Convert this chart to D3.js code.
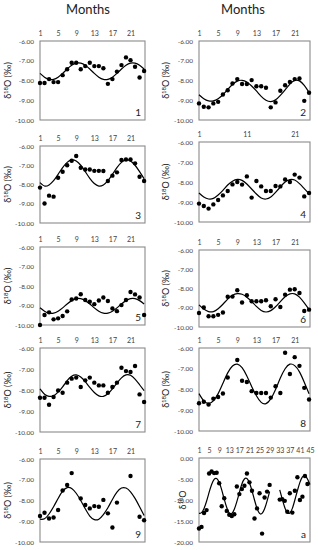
<!DOCTYPE html>
<html>
<head>
<meta charset="utf-8">
<script src="https://cdn.jsdelivr.net/npm/d3@7"></script>
<style>
  body { margin: 0; background: #fff; }
  text { font-family: Lato, "Open Sans", sans-serif; }
</style>
</head>
<body>
<svg id="chart" width="318" height="550"></svg>
<script>
// months on the x axis
var months = d3.range(1, 25),
    monthsLong = d3.range(1, 46);

// tick labels
var ticksBy4 = [1, 5, 9, 13, 17, 21],
    ticksBy10 = [1, 11, 21],
    ticksLong = [1, 5, 9, 13, 17, 21, 25, 29, 33, 37, 41, 45],
    isoTicks = [-6, -7, -8, -9, -10],
    isoTicksWide = [0, -5, -10, -15, -20];

// measured values (dots) and fitted curve, one pair per site
var obs1 = [-8.13,-8.13,-7.93,-8.08,-8.08,-7.73,-7.43,-7.10,-7.10,-7.43,-7.27,-7.10,-7.27,-7.27,-7.38,-8.17,-7.93,-7.55,-7.22,-6.83,-6.97,-7.30,-7.85,-7.52];
var fit1 = [-7.64,-7.83,-7.94,-7.94,-7.83,-7.64,-7.42,-7.23,-7.12,-7.12,-7.23,-7.42,-7.64,-7.83,-7.94,-7.94,-7.83,-7.64,-7.42,-7.23,-7.12,-7.12,-7.23,-7.42];

var obs2 = [-9.16,-9.33,-9.36,-9.16,-9.08,-8.71,-8.49,-8.15,-7.93,-8.18,-8.18,-7.98,-8.29,-8.29,-8.37,-9.36,-9.11,-8.52,-8.24,-8.07,-7.93,-7.90,-9.03,-8.62];
var fit2 = [-8.72,-8.92,-9.03,-9.03,-8.92,-8.72,-8.45,-8.20,-8.03,-7.99,-8.08,-8.28,-8.53,-8.80,-9.00,-9.07,-8.98,-8.75,-8.47,-8.18,-8.00,-8.02,-8.25,-8.60];

var obs3 = [-8.16,-8.99,-8.58,-8.63,-7.65,-7.34,-7.00,-6.77,-6.52,-7.13,-7.22,-7.22,-7.29,-7.29,-7.30,-7.82,-7.54,-7.37,-6.73,-6.70,-6.70,-6.90,-7.60,-7.82];
var fit3 = [-7.90,-8.08,-8.02,-7.80,-7.47,-7.12,-6.85,-6.72,-6.78,-7.00,-7.33,-7.68,-7.95,-8.08,-8.02,-7.80,-7.47,-7.12,-6.85,-6.72,-6.78,-7.00,-7.33,-7.70];

var obs4 = [-9.08,-9.20,-9.33,-9.12,-8.90,-8.67,-8.45,-8.12,-8.00,-8.13,-7.72,-8.78,-7.95,-8.22,-8.45,-8.45,-8.20,-8.22,-7.87,-8.00,-7.63,-7.78,-8.72,-8.55];
var fit4 = [-8.55,-8.75,-8.85,-8.82,-8.65,-8.42,-8.15,-7.96,-7.87,-7.92,-8.10,-8.35,-8.60,-8.80,-8.85,-8.75,-8.52,-8.25,-8.00,-7.88,-7.90,-8.08,-8.33,-8.58];

var obs5 = [-10.00,-9.49,-9.35,-9.71,-9.66,-9.54,-9.30,-8.69,-8.64,-8.42,-8.72,-8.81,-8.93,-8.74,-8.59,-8.77,-9.15,-9.29,-8.98,-8.72,-8.31,-8.43,-8.59,-9.49];
var fit5 = [-9.12,-9.29,-9.39,-9.39,-9.29,-9.12,-8.92,-8.75,-8.65,-8.65,-8.75,-8.92,-9.12,-9.29,-9.39,-9.39,-9.29,-9.12,-8.92,-8.75,-8.65,-8.65,-8.75,-8.92];

var obs6 = [-9.27,-8.99,-9.44,-9.44,-9.37,-9.25,-8.43,-8.42,-8.09,-8.73,-8.35,-8.66,-8.66,-8.66,-8.61,-8.92,-8.56,-8.96,-8.32,-8.06,-8.04,-8.23,-9.17,-9.10];
var fit6 = [-8.85,-9.07,-9.20,-9.20,-9.05,-8.82,-8.55,-8.35,-8.27,-8.30,-8.45,-8.68,-8.93,-9.14,-9.22,-9.15,-8.95,-8.68,-8.43,-8.28,-8.28,-8.45,-8.75,-9.08];

var obs7 = [-8.37,-8.37,-8.70,-8.33,-8.02,-8.13,-7.65,-7.46,-7.41,-7.86,-7.54,-7.41,-7.65,-7.78,-7.78,-8.13,-7.86,-7.65,-6.94,-7.10,-7.14,-6.86,-8.21,-8.57];
var fit7 = [-7.95,-8.20,-8.30,-8.27,-8.10,-7.85,-7.55,-7.34,-7.28,-7.38,-7.60,-7.88,-8.12,-8.28,-8.30,-8.18,-7.95,-7.67,-7.42,-7.28,-7.30,-7.48,-7.75,-8.03];

var obs8 = [-8.66,-8.59,-8.72,-8.44,-8.36,-8.19,-7.42,null,-6.58,-7.58,-7.64,-8.08,-8.17,-8.17,-8.17,-8.39,-7.84,-8.17,-6.23,-7.25,-6.44,-6.86,-7.92,-8.48];
var fit8 = [-8.20,-8.55,-8.68,-8.55,-8.20,-7.70,-7.20,-6.87,-6.78,-6.95,-7.35,-7.85,-8.30,-8.62,-8.68,-8.45,-8.00,-7.45,-7.00,-6.78,-6.85,-7.15,-7.65,-8.20];

var obs9 = [-8.75,-8.59,-8.87,-8.82,-8.46,-7.52,-7.25,-6.68,null,-7.90,-8.22,-8.38,-8.27,-8.30,-7.97,-8.62,-9.30,-8.10,null,null,-6.82,null,-8.78,-8.95];
var fit9 = [-8.90,-8.88,-8.65,-8.30,-7.90,-7.55,-7.38,-7.42,-7.65,-8.00,-8.40,-8.75,-8.92,-8.90,-8.68,-8.35,-7.95,-7.60,-7.40,-7.40,-7.58,-7.90,-8.30,-8.72];

var obsA = [-16.8,-16.4,-13.1,-12.4,-3.7,-3.2,-3.6,-3.5,-6.0,-11.5,-9.6,-12.6,-13.5,-13.8,-13.4,-6.8,-8.6,-7.4,-6.6,-3.7,-5.8,-7.8,-14.4,-12.0,-8.4,-18.0,-9.4,-8.0,-6.4,null,null,null,-9.9,-9.8,-10.2,-12.8,-8.4,-13.0,-7.8,-4.6,-10.0,-9.2,-4.3,-6.2,null];
var fitA = [-13.2,-13.0,-12.0,-10.3,-8.2,-6.3,-5.1,-4.9,-5.8,-7.6,-9.8,-11.8,-13.1,-13.2,-12.2,-10.4,-8.2,-6.2,-5.0,-4.9,-5.9,-7.8,-10.0,-12.0,-13.2,-13.2,-12.1,-10.2,-8.0,null,null,null,-7.6,-9.8,-11.8,-13.0,-13.1,-12.0,-10.0,-7.8,-5.8,-4.5,-4.2,-5.0,-6.3];

var svg = d3.select("#chart");

var leftX = [40, 145], rightX = [199, 310];

var panels = [
  {label: "1", obs: obs1, fit: fit1, xr: leftX,  yr: [41, 120],    ticks: ticksBy4,  col: 0},
  {label: "2", obs: obs2, fit: fit2, xr: rightX, yr: [41, 120],    ticks: ticksBy4,  col: 1},
  {label: "3", obs: obs3, fit: fit3, xr: leftX,  yr: [146, 223],   ticks: ticksBy4,  col: 0},
  {label: "4", obs: obs4, fit: fit4, xr: rightX, yr: [142, 222],   ticks: ticksBy10, col: 1},
  {label: "5", obs: obs5, fit: fit5, xr: leftX,  yr: [247, 325],   ticks: ticksBy4,  col: 0},
  {label: "6", obs: obs6, fit: fit6, xr: rightX, yr: [250, 327],   ticks: ticksBy4,  col: 1},
  {label: "7", obs: obs7, fit: fit7, xr: leftX,  yr: [348, 432],   ticks: ticksBy4,  col: 0},
  {label: "8", obs: obs8, fit: fit8, xr: rightX, yr: [348, 431],   ticks: ticksBy4,  col: 1},
  {label: "9", obs: obs9, fit: fit9, xr: leftX,  yr: [459, 542],   ticks: ticksBy4,  col: 0},
  {label: "a", obs: obsA, fit: fitA, xr: rightX, yr: [458, 542],   ticks: ticksLong, col: 1, wide: true}
];

// column titles
svg.selectAll(".coltitle")
  .data([[88, "Months"], [243, "Months"]])
  .enter().append("text")
  .attr("x", function (d) { return d[0]; })
  .attr("y", 14)
  .attr("text-anchor", "middle")
  .style("font-size", "13px")
  .style("fill", "#222")
  .text(function (d) { return d[1]; });

panels.forEach(function (p) {
  var xs = p.wide ? monthsLong : months;
  var x = d3.scaleLinear()
      .domain(p.wide ? [1, 45] : [1, 24.2])
      .range(p.xr);
  var y = d3.scaleLinear()
      .domain(p.wide ? [-20, 0] : [-10, -6])
      .range([p.yr[1], p.yr[0]]);
  var g = svg.append("g");

  // frame
  g.append("rect")
    .attr("x", p.xr[0]).attr("y", p.yr[0])
    .attr("width", p.xr[1] - p.xr[0]).attr("height", p.yr[1] - p.yr[0])
    .attr("fill", "none").attr("stroke", "#8a8a8a").attr("stroke-width", 1.1);

  // month labels on top
  var top = g.append("g")
    .attr("transform", "translate(0," + p.yr[0] + ")")
    .call(d3.axisTop(x).tickValues(p.ticks).tickSize(0).tickPadding(5));
  top.select(".domain").remove();
  top.selectAll("text").style("font-size", "7px").style("fill", "#444").style("font-family", "Lato, sans-serif");

  // isotope axis on the left
  var left = g.append("g")
    .attr("transform", "translate(" + p.xr[0] + ",0)")
    .call(d3.axisLeft(y)
      .tickValues(p.wide ? isoTicksWide : isoTicks)
      .tickFormat(function (d) { return d.toFixed(2); })
      .tickSize(0).tickPadding(6));
  left.select(".domain").remove();
  left.selectAll("text").style("font-size", "6.5px").style("fill", "#444").style("font-family", "Lato, sans-serif");

  // axis title
  var tx = p.col === 0 ? 11 : (p.wide ? 186 : 169),
      ty = (p.yr[0] + p.yr[1]) / 2;
  var title = g.append("text")
    .attr("transform", "translate(" + tx + "," + ty + ")rotate(-90)")
    .attr("text-anchor", "middle")
    .style("font-size", "9px")
    .style("fill", "#222");
  title.append("tspan").text("δ");
  title.append("tspan").attr("dy", -3).style("font-size", "6px").text("18");
  title.append("tspan").attr("dy", 3).text(p.wide ? "O" : "O (‰)");

  // fitted curve
  var line = d3.line()
    .defined(function (d) { return d[1] != null; })
    .x(function (d) { return x(d[0]); })
    .y(function (d) { return y(d[1]); })
    .curve(d3.curveNatural);
  g.append("path")
    .datum(xs.map(function (m, i) { return [m, p.fit[i]]; }))
    .attr("d", line)
    .attr("fill", "none")
    .attr("stroke", "#000")
    .attr("stroke-width", 1.2);

  // measured dots
  g.selectAll("circle")
    .data(xs.map(function (m, i) { return [m, p.obs[i]]; }).filter(function (d) { return d[1] != null; }))
    .enter().append("circle")
    .attr("cx", function (d) { return x(d[0]); })
    .attr("cy", function (d) { return y(d[1]); })
    .attr("r", 2.2)
    .attr("fill", "#000");

  // site label
  g.append("text")
    .attr("x", p.xr[1] - 4)
    .attr("y", p.yr[1] - 4)
    .attr("text-anchor", "end")
    .style("font-size", "10px")
    .style("fill", "#222")
    .text(p.label);
});
</script>
</body>
</html>
